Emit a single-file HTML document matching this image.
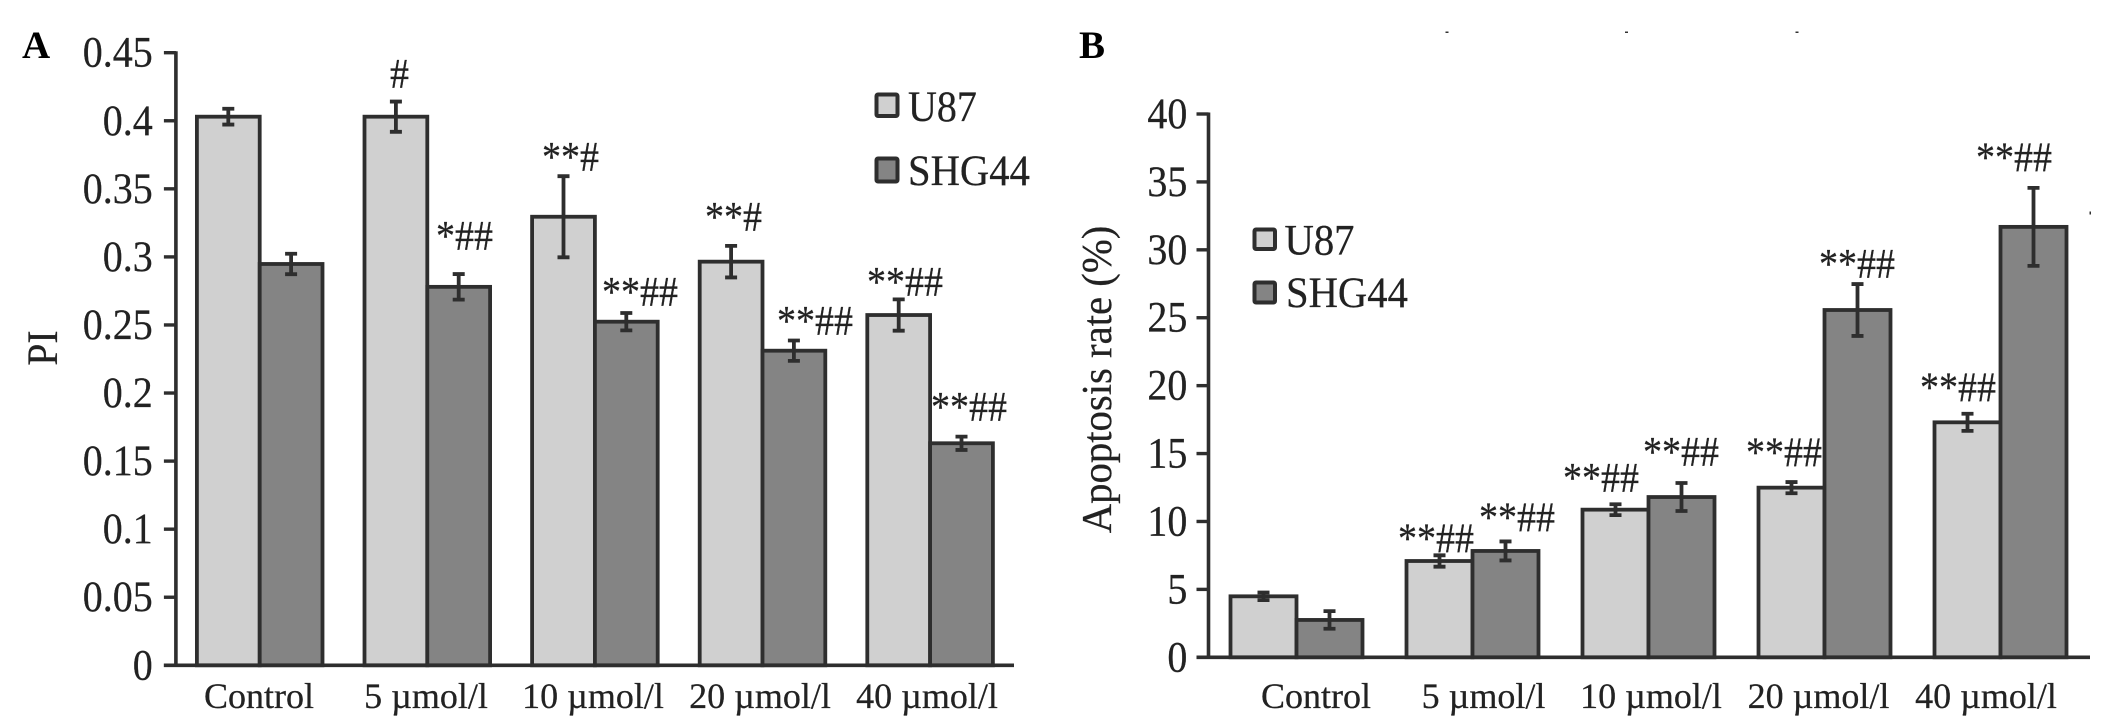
<!DOCTYPE html>
<html lang="en">
<head>
<meta charset="utf-8">
<title>PI and apoptosis rate in U87 and SHG44 cells</title>
<style>
html,body{margin:0;padding:0;background:#fff;}
svg{display:block;}
text{font-family:"Liberation Serif",serif;fill:#222;stroke:#222;stroke-width:0.25px;}
.note{font-size:42px;}
.legend-text{font-size:43px;}
.panel{font-size:39px;font-weight:bold;fill:#000;stroke:none;}
</style>
</head>
<body>
<svg id="figure" xmlns="http://www.w3.org/2000/svg" width="2126" height="717" viewBox="0 0 2126 717">
  <rect x="0" y="0" width="2126" height="717" fill="#ffffff"/>

  <text class="panel" x="22" y="58">A</text>
  <text class="panel" x="1079" y="58">B</text>

  <text font-size="43" text-anchor="middle" transform="translate(57,348) rotate(-90) scale(0.92,1)">PI</text>
  <text font-size="42" text-anchor="middle" transform="translate(1111,379.5) rotate(-90) scale(0.97,1)">Apoptosis rate (%)</text>

  <g id="plot-a"></g>
  <g id="plot-b"></g>

  <g>
    <rect x="876.5" y="94.5" width="21" height="21.5" rx="1.5" fill="#d0d0d0" stroke="#2e2e2e" stroke-width="4"/>
    <text class="legend-text" transform="translate(908,121) scale(0.93,1)">U87</text>
    <rect x="876.5" y="158.5" width="21" height="23" rx="1.5" fill="#848484" stroke="#2e2e2e" stroke-width="4"/>
    <text class="legend-text" transform="translate(908,185) scale(0.945,1)">SHG44</text>
  </g>
  <g>
    <rect x="1254.5" y="229.5" width="20.5" height="19.5" rx="1.5" fill="#d0d0d0" stroke="#2e2e2e" stroke-width="4"/>
    <text class="legend-text" transform="translate(1284.5,254.3) scale(0.945,1)">U87</text>
    <rect x="1254.5" y="282.5" width="20.5" height="20" rx="1.5" fill="#848484" stroke="#2e2e2e" stroke-width="4"/>
    <text class="legend-text" transform="translate(1286,307) scale(0.945,1)">SHG44</text>
  </g>

  <g>
    <text class="note" transform="translate(390,88) scale(0.905,1)">#</text>
    <text class="note" transform="translate(436,250) scale(0.905,1)">*##</text>
    <text class="note" transform="translate(542,171) scale(0.905,1)">**#</text>
    <text class="note" transform="translate(602,306) scale(0.905,1)">**##</text>
    <text class="note" transform="translate(705,231) scale(0.905,1)">**#</text>
    <text class="note" transform="translate(777,335) scale(0.905,1)">**##</text>
    <text class="note" transform="translate(867,296) scale(0.905,1)">**##</text>
    <text class="note" transform="translate(931,421) scale(0.905,1)">**##</text>
  </g>
  <g>
    <text class="note" transform="translate(1398,552.7) scale(0.905,1)">**##</text>
    <text class="note" transform="translate(1479,531.7) scale(0.905,1)">**##</text>
    <text class="note" transform="translate(1563,492) scale(0.905,1)">**##</text>
    <text class="note" transform="translate(1643,466) scale(0.905,1)">**##</text>
    <text class="note" transform="translate(1746,466.7) scale(0.905,1)">**##</text>
    <text class="note" transform="translate(1819,278) scale(0.905,1)">**##</text>
    <text class="note" transform="translate(1920,401.7) scale(0.905,1)">**##</text>
    <text class="note" transform="translate(1976,171.7) scale(0.905,1)">**##</text>
  </g>

  <g fill="#333333">
    <rect x="1445.5" y="31.5" width="3" height="1.5"/>
    <rect x="1625" y="31.5" width="3" height="1.5"/>
    <rect x="1795.5" y="31.5" width="3" height="1.5"/>
    <rect x="2089.5" y="211.5" width="1.5" height="3"/>
  </g>
</svg>

<script>
const categories = ['Control', '5 \u00b5mol/l', '10 \u00b5mol/l', '20 \u00b5mol/l', '40 \u00b5mol/l'];

const piTickLabels = ['0', '0.05', '0.1', '0.15', '0.2', '0.25', '0.3', '0.35', '0.4', '0.45'];
const piU87 = [0.403, 0.403, 0.3295, 0.2965, 0.2573];
const piShg44 = [0.2948, 0.278, 0.2524, 0.2311, 0.1631];
const piU87Err = [0.0058, 0.0111, 0.0298, 0.0116, 0.0115];
const piShg44Err = [0.0075, 0.0094, 0.0064, 0.0075, 0.0049];

const apoptosisTickLabels = ['0', '5', '10', '15', '20', '25', '30', '35', '40'];
const apoptosisU87 = [4.49, 7.09, 10.87, 12.49, 17.3];
const apoptosisShg44 = [2.75, 7.83, 11.8, 25.57, 31.69];
const apoptosisU87Err = [0.28, 0.42, 0.4, 0.41, 0.63];
const apoptosisShg44Err = [0.65, 0.7, 1.03, 1.91, 2.87];

const SVG_NS = 'http://www.w3.org/2000/svg';
const INK = '#2e2e2e';

function make(parent, tag, attrs) {
  const node = document.createElementNS(SVG_NS, tag);
  Object.keys(attrs).forEach(function (key) { node.setAttribute(key, attrs[key]); });
  parent.appendChild(node);
  return node;
}

function drawPanel(cfg) {
  const root = document.getElementById(cfg.rootId);
  const yScale = function (v) { return cfg.yZero - (v / cfg.yMax) * cfg.yPixels; };
  const xScale = function (i) { return cfg.axisX + (i + 0.5) * cfg.band; };
  const labelX = function (i) { return cfg.labelStart + i * cfg.labelStep; };

  cfg.seriesList.forEach(function (series, s) {
    series.values.forEach(function (value, i) {
      const left = xScale(i) + (s === 0 ? -cfg.barWidth : 0);
      const top = yScale(value);
      const bar = make(root, 'rect', {
        x: left, y: top, width: cfg.barWidth, height: cfg.yZero - top,
        fill: series.fill, stroke: INK, 'stroke-width': 3.8
      });
      
      
    });
  });

  cfg.seriesList.forEach(function (series, s) {
    series.values.forEach(function (value, i) {
      const cx = xScale(i) + (s === 0 ? -cfg.barWidth / 2 : cfg.barWidth / 2);
      const hi = yScale(value + series.errors[i]);
      const lo = yScale(value - series.errors[i]);
      const err = make(root, 'path', {
        d: 'M' + cx + ' ' + hi + 'V' + lo +
           'M' + (cx - 6) + ' ' + hi + 'H' + (cx + 6) +
           'M' + (cx - 6) + ' ' + lo + 'H' + (cx + 6),
        fill: 'none', stroke: INK, 'stroke-width': 3.8
      });
      
      
    });
  });

  const yLine = make(root, 'line', {
    x1: cfg.axisX, x2: cfg.axisX, y1: yScale(cfg.yMax) - 1.5, y2: cfg.yZero,
    stroke: INK, 'stroke-width': 3.6
  });
  
  

  const xLine = make(root, 'line', {
    x1: cfg.axisX - 12, x2: cfg.axisEnd, y1: cfg.yZero, y2: cfg.yZero,
    stroke: INK, 'stroke-width': 3.6
  });
  
  

  cfg.ticks.forEach(function (label) {
    const y = yScale(parseFloat(label));
    const tick = make(root, 'line', {
      x1: cfg.axisX - 12, x2: cfg.axisX, y1: y, y2: y, stroke: INK, 'stroke-width': 3.4
    });
    
    

    const text = make(root, 'text', {
      'font-size': 43, 'text-anchor': 'end',
      transform: 'translate(' + cfg.tickLabelX + ',' + (y + 14) + ') scale(0.93,1)'
    });
    text.textContent = label;
    
    
  });

  categories.forEach(function (name, i) {
    const text = make(root, 'text', {
      x: labelX(i), y: 708, 'font-size': 36, 'text-anchor': 'middle'
    });
    text.textContent = name;
    
    
  });
}

drawPanel({
  rootId: 'plot-a',
  axisX: 175.9, axisEnd: 1014, band: 167.6, barWidth: 62.8,
  yZero: 665.3, yPixels: 612.6, yMax: 0.45,
  tickLabelX: 152.7, labelStart: 259, labelStep: 167,
  ticks: piTickLabels,
  seriesList: [
    { key: 'u87', fill: '#d0d0d0', values: piU87, errors: piU87Err },
    { key: 'shg44', fill: '#848484', values: piShg44, errors: piShg44Err }
  ]
});

drawPanel({
  rootId: 'plot-b',
  axisX: 1208.5, axisEnd: 2090, band: 176, barWidth: 66,
  yZero: 657.3, yPixels: 543.3, yMax: 40,
  tickLabelX: 1187.4, labelStart: 1316, labelStep: 167.5,
  ticks: apoptosisTickLabels,
  seriesList: [
    { key: 'u87', fill: '#d0d0d0', values: apoptosisU87, errors: apoptosisU87Err },
    { key: 'shg44', fill: '#848484', values: apoptosisShg44, errors: apoptosisShg44Err }
  ]
});
</script>
</body>
</html>
